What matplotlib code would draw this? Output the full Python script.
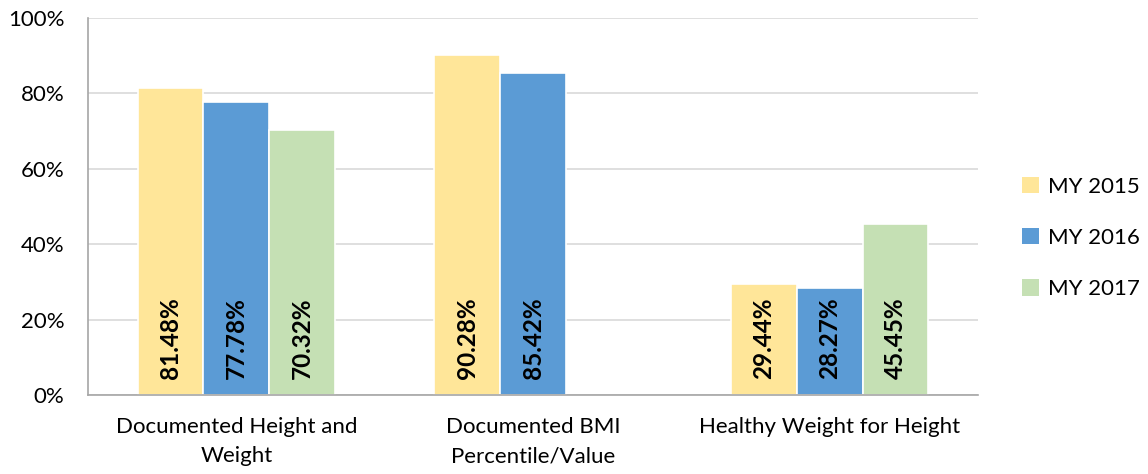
import numpy as np
import matplotlib
matplotlib.use('Agg')
from matplotlib import pyplot as plt
from matplotlib.patches import Patch

# measurement year rates (percent)
categories = ['Documented Height and\nWeight', 'Documented BMI\nPercentile/Value', 'Healthy Weight for Height']
series_names = ['MY 2015', 'MY 2016', 'MY 2017']
my2015 = [81.48, 90.28, 29.44]
my2016 = [77.78, 85.42, 28.27]
my2017 = [70.32, np.nan, 45.45]
colors = ['#FFE699', '#5B9BD5', '#C5E0B4']

plt.rcParams['font.family'] = ['Lato', 'DejaVu Sans']

fig = plt.figure(figsize=(11.48, 4.74), dpi=100)
ax = fig.add_axes([88 / 1148, 79 / 474, 890 / 1148, 377 / 474])

x = np.arange(len(categories))
w = 0.222
for i, vals in enumerate([my2015, my2016, my2017]):
    pos = x + (i - 1) * w
    ax.bar(pos, vals, width=w, color=colors[i], edgecolor='white', linewidth=1.2, zorder=2)
    for p, v in zip(pos, vals):
        if np.isnan(v):
            continue
        ax.text(p, 4.3, '%.2f%%' % v, rotation=90, ha='center', va='bottom',
                fontsize=17.5, fontweight='bold', color='black', zorder=3)

ax.set_xlim(-0.5, 2.5)
ax.set_ylim(0, 100)
ax.set_yticks(range(0, 101, 20))
ax.set_yticklabels(['%d%%' % t for t in range(0, 101, 20)], fontsize=16)
ax.set_xticks(x)
ax.set_xticklabels(categories, fontsize=16, linespacing=1.55)
ax.tick_params(axis='y', length=0, pad=17)
ax.tick_params(axis='x', length=0, pad=16)
ax.yaxis.grid(True, color='#D9D9D9', linewidth=1.2, zorder=0)
ax.set_axisbelow(True)
for s in ['top', 'right']:
    ax.spines[s].set_visible(False)
ax.spines['left'].set_color('#A6A6A6')
ax.spines['bottom'].set_color('#A6A6A6')
ax.spines['left'].set_linewidth(1.2)
ax.spines['bottom'].set_linewidth(1.2)

handles = [Patch(facecolor=c, edgecolor='none') for c in colors]
fig.legend(handles, series_names, loc='center left', bbox_to_anchor=(1022 / 1148, 236 / 474),
           frameon=False, fontsize=16, handlelength=0.75, handleheight=0.75,
           handletextpad=0.4, labelspacing=1.4, borderpad=0, borderaxespad=0)

fig.savefig('out.png', dpi=100)
